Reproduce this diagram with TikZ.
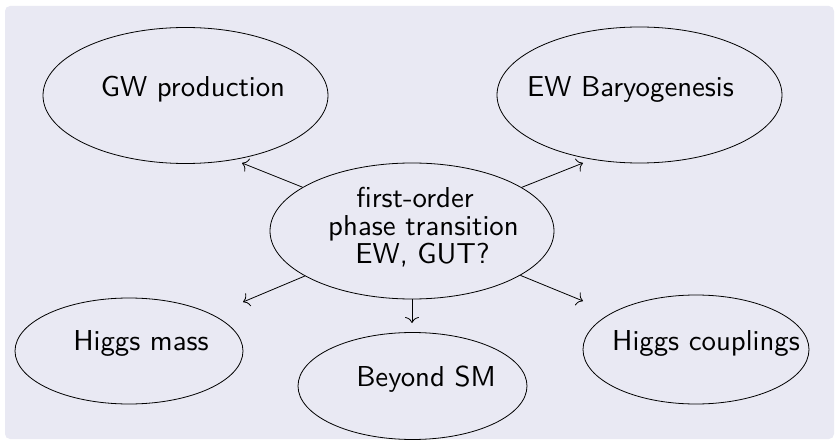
\documentclass[tikz,border=0pt]{standalone}
\usepackage{fontspec}
\newfontfamily\lmsten{lmsans10-regular.otf}
\usetikzlibrary{shapes.geometric,arrows.meta}
\definecolor{blockbg}{RGB}{233,233,243}
\begin{document}
\begin{tikzpicture}[x=1pt,y=-1pt,
  bubble/.style={draw=black, line width=0.8pt, ellipse, inner sep=0pt},
  lbl/.style={anchor=base, inner sep=0pt, font=\lmsten\fontsize{28.8}{27.5}\selectfont},
  conn/.style={-{To[length=6pt,width=14pt]}, line width=0.8pt}]
\useasboundingbox (0,0) rectangle (839,441);
\fill[blockbg, rounded corners=5pt] (5,6) rectangle (834,439);
% ellipses
\node[bubble, minimum width=285pt, minimum height=136pt] (gw) at (185.5,95.5) {};
\node[bubble, minimum width=285pt, minimum height=136pt] (bg) at (639.5,95) {};
\node[bubble, minimum width=284pt, minimum height=136pt] (pt) at (412,231) {};
\node[bubble, minimum width=228pt, minimum height=106pt] (hm) at (129,351) {};
\node[bubble, minimum width=229pt, minimum height=107pt] (bsm) at (412.5,386) {};
\node[bubble, minimum width=226pt, minimum height=109pt] (hc) at (696,349.5) {};
% labels
\node[lbl] (gwt) at (193,97) {GW production};
\node[lbl] (bgt) at (630.5,97) {EW Baryogenesis};
\node[lbl] (pt1) at (415,208) {first-order};
\node[lbl] (pt2) at (423.5,236) {phase transition};
\node[lbl] (pt3) at (422.5,263) {EW, GUT?};
\node[lbl] (hmt) at (141,350) {Higgs mass};
\node[lbl] (bsmt) at (426,386.5) {Beyond SM};
\node[lbl] (hct) at (706,350) {Higgs couplings};
% arrow end points
\coordinate (egw) at (242,163);
\coordinate (ebg) at (583,163);
\coordinate (ehm) at (243,302);
\coordinate (ehc) at (583,301);
\coordinate (ebsm) at (412,323);
\draw[conn] (pt) -- (egw);
\draw[conn] (pt) -- (ebg);
\draw[conn] (pt) -- (ehm);
\draw[conn] (pt) -- (ehc);
\draw[conn] (pt) -- (ebsm);
\end{tikzpicture}
\end{document}
